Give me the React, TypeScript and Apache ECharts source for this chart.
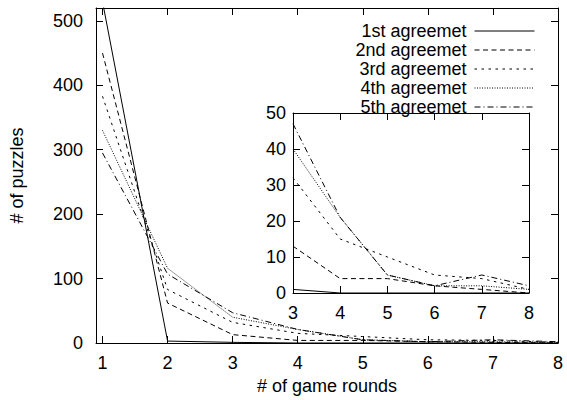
import React, { useEffect, useRef } from "react";
import * as echarts from "echarts";

const rounds = [1, 2, 3, 4, 5, 6, 7, 8];
const seriesNames = ["1st agreemet", "2nd agreemet", "3rd agreemet", "4th agreemet", "5th agreemet"];
const s1 = [530, 3, 1, 0, 0, 0, 0, 0];
const s2 = [450, 62, 13, 4, 4, 2, 1, 0];
const s3 = [383, 83, 32, 15, 10, 5, 4, 1];
const s4 = [330, 116, 40, 21, 5, 2, 2, 1];
const s5 = [295, 107, 47, 21, 5, 2, 5, 2];
const mainYTicks = [0, 100, 200, 300, 400, 500];

const allSeries = [s1, s2, s3, s4, s5];
const dashes: any[] = ["solid", [5, 3.5], [2.5, 4.5], [1, 1.5], [6, 3, 1, 3]];

const FONT = "'Liberation Sans', Arial, Helvetica, sans-serif";

export default function App() {
  const ref = useRef<HTMLDivElement>(null);
  useEffect(() => {
    if (!ref.current) return;
    const chart = echarts.init(ref.current, undefined, { renderer: "svg" });
    const axisLine = { show: true, onZero: false, lineStyle: { color: "#000", width: 1 } };
    const tick = (vals?: number[]) => ({
      show: true,
      inside: true,
      length: 7,
      lineStyle: { color: "#000", width: 1 },
      ...(vals ? { customValues: vals } : {}),
    });
    const label = (show: boolean, margin: number, vals?: number[]) => ({
      show,
      color: "#000",
      fontSize: 18,
      fontFamily: FONT,
      margin,
      ...(vals ? { customValues: vals } : {}),
    });
    const xy = (data: number[]) => rounds.map((r, i) => [r, data[i]]);

    const mainSeries = allSeries.map((d, i) => ({
      name: seriesNames[i],
      type: "line",
      xAxisIndex: 0,
      yAxisIndex: 0,
      data: xy(d),
      symbol: "none",
      showSymbol: false,
      lineStyle: { color: "#000", width: 1, type: dashes[i] },
      itemStyle: { color: "#000" },
      z: 2,
    }));
    const insetSeries = allSeries.map((d, i) => ({
      name: seriesNames[i],
      type: "line",
      xAxisIndex: 2,
      yAxisIndex: 2,
      data: xy(d).filter((p) => p[0] >= 3),
      symbol: "none",
      showSymbol: false,
      lineStyle: { color: "#000", width: 1, type: dashes[i] },
      itemStyle: { color: "#000" },
      z: 6,
    }));

    chart.setOption({
      animation: false,
      backgroundColor: "#fff",
      textStyle: { fontFamily: FONT, color: "#000" },
      grid: [
        { left: 96, right: 9, top: 8, bottom: 57, show: false, containLabel: false },
        {
          left: 293,
          right: 38,
          top: 113,
          bottom: 107,
          show: true,
          backgroundColor: "#fff",
          borderWidth: 0,
          z: 5,
        },
      ],
      legend: {
        orient: "vertical",
        right: 27,
        top: 17,
        align: "right",
        itemWidth: 60,
        itemHeight: 14,
        itemGap: 1,
        selectedMode: false,
        data: seriesNames,
        itemStyle: { color: "transparent", borderWidth: 0, opacity: 0 },
        lineStyle: { width: 1 },
        textStyle: {
          fontSize: 18,
          lineHeight: 18,
          fontFamily: FONT,
          color: "#000",
          padding: [0, 3, 0, 0],
        },
        z: 10,
      },
      xAxis: [
        {
          type: "value",
          gridIndex: 0,
          position: "bottom",
          min: 0.9,
          max: 8,
          axisLine,
          axisTick: tick(rounds),
          axisLabel: label(true, 11, rounds),
          splitLine: { show: false },
          name: "# of game rounds",
          nameLocation: "middle",
          nameGap: 32,
          nameTextStyle: { fontSize: 18, fontFamily: FONT, color: "#000" },
        },
        {
          type: "value",
          gridIndex: 0,
          position: "top",
          min: 0.9,
          max: 8,
          axisLine,
          axisTick: tick(rounds),
          axisLabel: { show: false },
          splitLine: { show: false },
        },
        {
          type: "value",
          gridIndex: 1,
          position: "bottom",
          min: 3,
          max: 8,
          interval: 1,
          axisLine,
          axisTick: tick(),
          axisLabel: label(true, 11),
          splitLine: { show: false },
          z: 7,
        },
        {
          type: "value",
          gridIndex: 1,
          position: "top",
          min: 3,
          max: 8,
          interval: 1,
          axisLine,
          axisTick: tick(),
          axisLabel: { show: false },
          splitLine: { show: false },
          z: 7,
        },
      ],
      yAxis: [
        {
          type: "value",
          gridIndex: 0,
          position: "left",
          min: 0,
          max: 520,
          axisLine,
          axisTick: tick(mainYTicks),
          axisLabel: label(true, 13, mainYTicks),
          splitLine: { show: false },
          name: "# of puzzles",
          nameLocation: "middle",
          nameGap: 70,
          nameTextStyle: { fontSize: 18, fontFamily: FONT, color: "#000" },
        },
        {
          type: "value",
          gridIndex: 0,
          position: "right",
          min: 0,
          max: 520,
          axisLine,
          axisTick: tick(mainYTicks),
          axisLabel: { show: false },
          splitLine: { show: false },
        },
        {
          type: "value",
          gridIndex: 1,
          position: "left",
          min: 0,
          max: 50,
          interval: 10,
          axisLine,
          axisTick: tick(),
          axisLabel: label(true, 7),
          splitLine: { show: false },
          z: 7,
        },
        {
          type: "value",
          gridIndex: 1,
          position: "right",
          min: 0,
          max: 50,
          interval: 10,
          axisLine,
          axisTick: tick(),
          axisLabel: { show: false },
          splitLine: { show: false },
          z: 7,
        },
      ],
      series: [...mainSeries, ...insetSeries],
    });
    return () => chart.dispose();
  }, []);
  return (
    <div
      ref={ref}
      style={{ position: "fixed", left: 0, top: 0, width: 567, height: 400, background: "#fff" }}
    />
  );
}
